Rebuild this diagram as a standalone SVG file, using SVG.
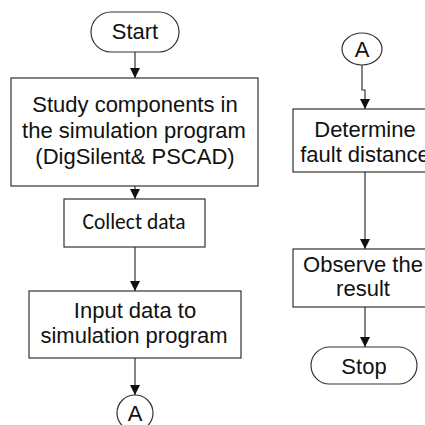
<svg xmlns="http://www.w3.org/2000/svg" width="425" height="425" viewBox="0 0 425 425">
<defs>
<marker id="ah" markerWidth="10" markerHeight="10" refX="10" refY="5" orient="auto" markerUnits="userSpaceOnUse">
<path d="M0,0 L10,5 L0,10 Z" fill="#111"/>
</marker>
<style>
.s{fill:#fff;stroke:#333;stroke-width:1.2}
.t{font-family:"Liberation Sans",Arial,sans-serif;font-size:22px;fill:#111;text-anchor:middle}
.c{font-family:Carlito,"Open Sans","Liberation Sans",sans-serif;font-size:21.5px;fill:#111;text-anchor:middle}
.l{fill:none;stroke:#333;stroke-width:1.2}
</style>
</defs>
<rect width="425" height="425" fill="#fff"/>
<g id="connectors">
<line class="l" x1="135" y1="52" x2="135" y2="78" marker-end="url(#ah)"/>
<line class="l" x1="135" y1="186" x2="135" y2="199" marker-end="url(#ah)"/>
<line class="l" x1="135" y1="247" x2="135" y2="291" marker-end="url(#ah)"/>
<line class="l" x1="135" y1="358" x2="135" y2="395" marker-end="url(#ah)"/>
<polyline class="l" points="362,65 362,90 365,90 365,109" marker-end="url(#ah)"/>
<line class="l" x1="365" y1="172" x2="365" y2="249" marker-end="url(#ah)"/>
<line class="l" x1="365" y1="307" x2="365" y2="347" marker-end="url(#ah)"/>
</g>
<g id="start">
<rect class="s" x="91" y="12" width="88" height="40" rx="20" ry="20"/>
<text class="t" x="135" y="39">Start</text>
</g>
<g id="study">
<rect class="s" x="11" y="78" width="247" height="108"/>
<text class="t" x="135" y="112">Study components in</text>
<text class="t" x="134" y="138">the simulation program</text>
<text class="t" x="135" y="164">(DigSilent&amp; PSCAD)</text>
</g>
<g id="collect">
<rect class="s" x="64" y="199" width="141" height="48"/>
<text class="c" x="134" y="229">Collect data</text>
</g>
<g id="input">
<rect class="s" x="29" y="291" width="212" height="67"/>
<text class="t" x="135" y="318">Input data to</text>
<text class="t" x="134" y="343">simulation program</text>
</g>
<g id="a1">
<circle class="s" cx="135" cy="413" r="18"/>
<text class="t" x="135" y="421">A</text>
</g>
<g id="a2">
<ellipse class="s" cx="362" cy="49" rx="20" ry="16"/>
<text class="t" x="362" y="57">A</text>
</g>
<g id="determine">
<rect class="s" x="293" y="109" width="144" height="63"/>
<text class="t" x="365" y="137">Determine</text>
<text class="t" x="365" y="162">fault distance</text>
</g>
<g id="observe">
<rect class="s" x="293" y="249" width="144" height="58"/>
<text class="t" x="363" y="272">Observe the</text>
<text class="t" x="363" y="296">result</text>
</g>
<g id="stop">
<rect class="s" x="311" y="347" width="106" height="37" rx="18.5" ry="18.5"/>
<text class="t" x="364" y="374">Stop</text>
</g>
</svg>
